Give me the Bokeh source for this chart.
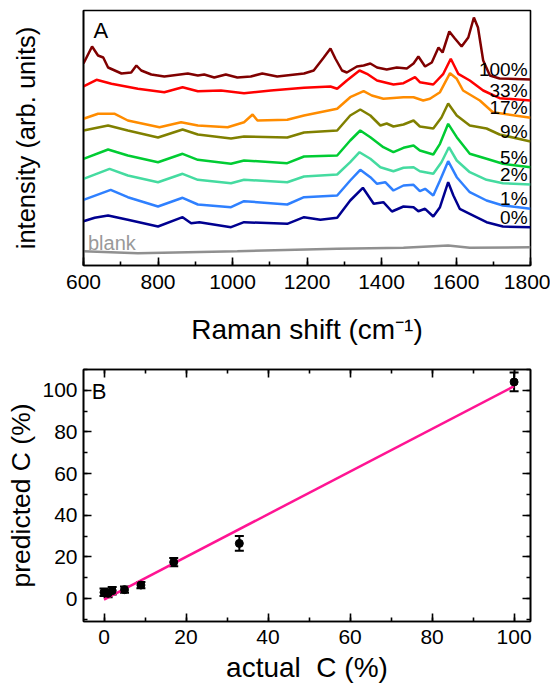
from bokeh.plotting import figure
from bokeh.layouts import column
from bokeh.models import (Range1d, SingleIntervalTicker, LinearAxis, ColumnDataSource,
                          Whisker, TeeHead, FixedTicker, CustomJSTickFormatter)
from bokeh.core.properties import value
from bokeh.embed import file_html
from bokeh.resources import INLINE

FONT = "Liberation Sans"

# ---------------- Panel A data: Raman spectra (arb. units, offset) ----------------
x_100 = [600, 623, 639, 653, 666, 702, 728, 742, 755, 782, 817, 880, 907, 924, 951, 982, 1013, 1049,
         1080, 1120, 1192, 1218, 1245, 1263, 1276, 1294, 1307, 1334, 1352, 1370, 1388, 1414, 1441,
         1468, 1486, 1499, 1517, 1535, 1553, 1564, 1582, 1597, 1615, 1633, 1648, 1659, 1673, 1691,
         1717, 1800]
y_100 = [202, 219, 210, 208, 198, 192, 193, 200, 195, 191, 189, 192, 190, 191, 188, 191, 188, 189,
         192, 189, 192, 195, 208, 217, 207, 195, 193, 199, 200, 202, 198, 196, 198,
         197, 202, 209, 199, 203, 218, 213, 234, 227, 219, 228, 248, 238, 205, 190,
         187, 186]

x_33 = [600, 635, 675, 746, 817, 866, 907, 969, 1031, 1103, 1192, 1263, 1281, 1307, 1341, 1361,
        1388, 1432, 1459, 1490, 1503, 1539, 1566, 1586, 1606, 1637, 1673, 1717, 1800]
y_33 = [179, 185.7, 181.7, 176.7, 173.3, 178.3, 174.3, 175, 172.3, 175, 177.7, 179, 176.7, 185, 195,
        191.7, 185, 181, 182.3, 188.3, 183.3, 181, 191.7, 206.7, 191.7, 185, 175, 167.3, 165]

x_17 = [600, 639, 684, 719, 804, 862, 907, 987, 1031, 1054, 1067, 1147, 1192, 1281, 1316, 1352,
        1374, 1405, 1459, 1486, 1512, 1530, 1557, 1584, 1602, 1619, 1664, 1699, 1800]
y_17 = [146.7, 151.7, 151.7, 145, 138.3, 143.3, 140, 138.3, 143.3, 151, 145, 145.7, 150, 156.7,
        168.3, 174.3, 170, 166.7, 168.3, 168.3, 165, 166.7, 173.3, 192.3, 186.7, 175, 165, 153.3,
        147.7]

x_9 = [600, 666, 719, 800, 866, 907, 996, 1031, 1147, 1192, 1281, 1316, 1343, 1370, 1397, 1414,
       1432, 1459, 1486, 1503, 1539, 1561, 1579, 1602, 1637, 1682, 1717, 1800]
y_9 = [135, 140, 135, 128, 136, 131, 127, 129, 128, 133, 135, 150, 156, 150, 140, 142,
       139, 141, 145, 139, 137, 148, 162, 150, 140, 137, 131, 124]

x_5 = [600, 666, 719, 800, 866, 907, 996, 1031, 1147, 1192, 1281, 1316, 1343, 1370, 1405, 1432,
       1459, 1486, 1503, 1539, 1557, 1579, 1602, 1637, 1682, 1726, 1800]
y_5 = [106.7, 116, 110, 103.3, 111.7, 105.7, 101.7, 105, 102.3, 109, 110, 125, 135, 128.3, 118.3,
       113.3, 117.7, 120, 115, 111, 121.7, 141.7, 128.3, 111.7, 106.7, 101.7, 98.3]

x_2 = [600, 670, 719, 800, 866, 907, 996, 1031, 1147, 1192, 1281, 1316, 1341, 1370, 1397, 1432,
       1459, 1486, 1503, 1539, 1561, 1581, 1602, 1637, 1682, 1726, 1800]
y_2 = [86.7, 96.7, 90, 83.3, 91.7, 85.7, 82.3, 85.7, 83.3, 89, 91, 103.3, 113.3, 106.7, 98.3, 94.3,
       97.7, 98.3, 94.3, 91.7, 103.3, 118.3, 105, 93.3, 85.7, 82.3, 81]

x_1 = [600, 673, 719, 800, 866, 907, 996, 1031, 1147, 1192, 1281, 1316, 1343, 1370, 1388, 1410,
       1432, 1459, 1486, 1503, 1517, 1539, 1557, 1579, 1602, 1637, 1682, 1726, 1800]
y_1 = [65.7, 75.7, 68.3, 59, 67.7, 61, 58.3, 64.3, 61, 68.3, 70, 85, 95.7, 88.3, 81.7, 83.3,
       75, 80, 80.7, 74.3, 76.7, 70, 85, 104.3, 88.3, 73.3, 65, 60, 56.7]

x_0 = [600, 630, 666, 719, 800, 866, 889, 911, 996, 1031, 1147, 1192, 1236, 1281, 1316, 1350,
       1379, 1405, 1428, 1459, 1486, 1499, 1517, 1539, 1557, 1579, 1593, 1610, 1637, 1682, 1726,
       1800]
y_0 = [44.3, 47.7, 50, 45.7, 39, 48.3, 42.3, 43.3, 38.3, 43.3, 41.7, 48.3, 45.7, 47.7, 65, 77.7,
       61.7, 63.3, 54, 59, 58.3, 54.3, 56.7, 49, 58.3, 83.3, 70, 56.7, 51.7, 43.3, 39,
       38.3]

x_blank = [600, 746, 1013, 1281, 1459, 1579, 1637, 1800]
y_blank = [14.3, 12.3, 14.3, 16.7, 17.7, 20, 17.7, 18.3]

series_labels = ["100%", "33%", "17%", "9%", "5%", "2%", "1%", "0%"]
series_colors = ["#800000", "#ff0000", "#ff8c00", "#808000", "#00cc33", "#45dba0", "#2f80ff", "#000090"]
series_x = [x_100, x_33, x_17, x_9, x_5, x_2, x_1, x_0]
series_y = [y_100, y_33, y_17, y_9, y_5, y_2, y_1, y_0]

# ---------------- Panel B data: prediction ----------------
actual_c = [0, 1, 2, 5, 9, 17, 33, 100]
predicted_c = [3.0, 2.5, 3.8, 4.3, 6.5, 17.5, 26.5, 104.0]
predicted_err = [1.8, 1.8, 1.8, 1.5, 1.5, 2.0, 3.5, 4.5]
fit_x = [0, 100]
fit_y = [-0.5, 102]


def style_axis(ax, size="21px", title_size="28px"):
    ax.axis_line_width = 1.6
    ax.axis_line_color = "black"
    ax.major_tick_in = 8
    ax.major_tick_out = 0
    ax.minor_tick_in = 4
    ax.minor_tick_out = 0
    ax.major_tick_line_width = 1.6
    ax.minor_tick_line_width = 1.6
    ax.major_label_text_font = FONT
    ax.major_label_text_font_size = size
    ax.major_label_text_color = "black"
    ax.axis_label_text_font = FONT
    ax.axis_label_text_font_size = title_size
    ax.axis_label_text_font_style = "normal"
    ax.axis_label_text_color = "black"


# ---------------- Figure A ----------------
pa = figure(width=550, height=355, output_backend="svg", toolbar_location=None,
            x_range=Range1d(600, 1800), y_range=Range1d(0, 255),
            min_border_left=82, min_border_right=19, min_border_top=10, min_border_bottom=90)
pa.grid.visible = False
pa.outline_line_color = "black"
pa.outline_line_width = 1.6
pa.background_fill_color = "white"

pa.xaxis.ticker = SingleIntervalTicker(interval=200, num_minor_ticks=2)
style_axis(pa.xaxis[0])
pa.xaxis.axis_label = "Raman shift (cm\u207b\u00b9)"
pa.xaxis.major_label_standoff = 9
pa.xaxis.axis_label_standoff = 22

pa.yaxis.ticker = FixedTicker(ticks=[])
style_axis(pa.yaxis[0], title_size="25.5px")
pa.yaxis.axis_label = "intensity (arb. units)"
pa.yaxis.axis_label_standoff = 44

pa.line(x_blank, y_blank, line_color="#909090", line_width=2.5)
for xs, ys, col in zip(series_x, series_y, series_colors):
    pa.line(xs, ys, line_color=col, line_width=2.5)

lab_y = [ys[-1] + 10 for ys in series_y]
pa.text(x=[xs[-1] - 8 for xs in series_x], y=lab_y, text=series_labels,
        text_align="right", text_baseline="middle", text_font=value(FONT),
        text_font_size="19px", text_color="black")
pa.text(x=[x_blank[0] + 12], y=[y_blank[0] + 8], text=["blank"], text_align="left",
        text_baseline="middle", text_font=value(FONT), text_font_size="20px", text_color="#999999")
pa.text(x=[627], y=[235], text=["A"], text_align="left", text_baseline="middle",
        text_font=value(FONT), text_font_size="22px", text_color="black")

# ---------------- Figure B ----------------
pb = figure(width=550, height=338, output_backend="svg", toolbar_location=None,
            x_range=Range1d(-5, 104), y_range=Range1d(-11, 110),
            min_border_left=83, min_border_right=20, min_border_top=14, min_border_bottom=72)
pb.grid.visible = False
pb.outline_line_color = "black"
pb.outline_line_width = 1.6

pb.xaxis.ticker = SingleIntervalTicker(interval=20, num_minor_ticks=2)
pb.yaxis.ticker = SingleIntervalTicker(interval=20, num_minor_ticks=2)
style_axis(pb.xaxis[0])
style_axis(pb.yaxis[0], title_size="26.5px")
pb.xaxis.axis_label = "actual\u00a0 C (%)"
pb.yaxis.axis_label = "predicted C (%)"
pb.xaxis.major_label_standoff = 8
pb.xaxis.axis_label_standoff = 5
pb.yaxis.major_label_standoff = 6
pb.yaxis.axis_label_standoff = 3

empty_fmt = CustomJSTickFormatter(code="return '';")
ax_top = LinearAxis(ticker=SingleIntervalTicker(interval=20, num_minor_ticks=2), formatter=empty_fmt)
ax_right = LinearAxis(ticker=SingleIntervalTicker(interval=20, num_minor_ticks=2), formatter=empty_fmt)
for ax in (ax_top, ax_right):
    style_axis(ax, size="1px")
    ax.major_label_standoff = 0
    ax.axis_label_standoff = 0
pb.add_layout(ax_top, "above")
pb.add_layout(ax_right, "right")

pb.line(fit_x, fit_y, line_color="#ff1493", line_width=2.5)

src = ColumnDataSource(dict(x=actual_c, y=predicted_c,
                            lo=[v - e for v, e in zip(predicted_c, predicted_err)],
                            hi=[v + e for v, e in zip(predicted_c, predicted_err)]))
wh = Whisker(source=src, base="x", upper="hi", lower="lo", dimension="height",
             line_color="black", line_width=2,
             upper_head=TeeHead(size=9, line_color="black", line_width=2),
             lower_head=TeeHead(size=9, line_color="black", line_width=2))
pb.add_layout(wh)
pb.scatter("x", "y", source=src, size=8, color="black")

pb.text(x=[-3], y=[99.5], text=["B"], text_align="left", text_baseline="middle",
        text_font=value(FONT), text_font_size="22px", text_color="black")

layout = column(pa, pb, spacing=0)
open("out.html", "w").write(file_html(layout, INLINE))
